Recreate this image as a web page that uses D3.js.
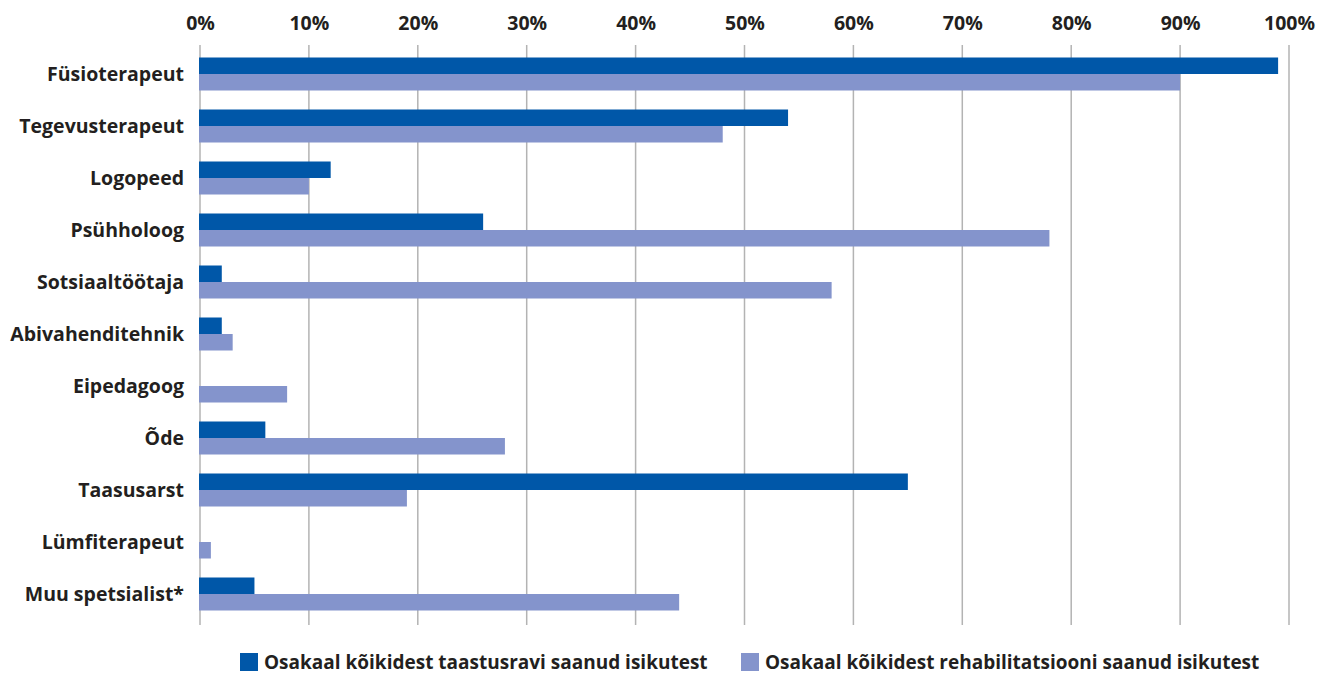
<!DOCTYPE html>
<html>
<head>
<meta charset="utf-8">
<script src="https://cdn.jsdelivr.net/npm/d3@7/dist/d3.min.js"></script>
<style>
  html, body { margin: 0; padding: 0; background: #fff; }
  svg text { font-family: "Open Sans", "Noto Sans", sans-serif; font-weight: 700; fill: #231f20; }
</style>
</head>
<body>
<svg id="chart" width="1319" height="675"></svg>
<script>
const categories = [
  "Füsioterapeut", "Tegevusterapeut", "Logopeed", "Psühholoog", "Sotsiaaltöötaja",
  "Abivahenditehnik", "Eipedagoog", "Õde", "Taasusarst", "Lümfiterapeut", "Muu spetsialist*"
];
const taastusravi = [99, 54, 12, 26, 2, 2, 0, 6, 65, 0, 5];
const rehabilitatsioon = [90, 48, 10, 78, 58, 3, 8, 28, 19, 1, 44];
const seriesNames = [
  "Osakaal kõikidest taastusravi saanud isikutest",
  "Osakaal kõikidest rehabilitatsiooni saanud isikutest"
];
const seriesColors = ["#0057a8", "#8494cc"];
const xTicks = [0, 10, 20, 30, 40, 50, 60, 70, 80, 90, 100];

const svg = d3.select("#chart");
const plotLeft = 200, plotRight = 1289, plotTop = 48, plotBottom = 620;
const fontSize = 19.5;

const x = d3.scaleLinear().domain([0, 100]).range([plotLeft, plotRight]);
const y = d3.scaleBand().domain(categories).range([plotTop, plotBottom]);
const inner = d3.scaleBand().domain([0, 1]).range([y.bandwidth() / 2 - 16.5, y.bandwidth() / 2 + 16.5]);

// vertical gridlines
svg.append("g").selectAll("line").data(xTicks).join("line")
  .attr("x1", d => x(d)).attr("x2", d => x(d))
  .attr("y1", plotTop - 3).attr("y2", plotBottom + 5)
  .attr("stroke", "#b3b3b3").attr("stroke-width", 1.5);

// top axis labels
const axis = d3.axisTop(x).tickValues(xTicks).tickFormat(d => d + "%").tickSize(0).tickPadding(0);
const axG = svg.append("g").attr("transform", `translate(0, 30)`).call(axis);
axG.select(".domain").remove();
axG.selectAll("text").attr("font-size", fontSize).attr("dy", 0).attr("fill", "#231f20")
  .style("font-family", '"Open Sans", sans-serif').style("font-weight", 700);

// bars
const rows = categories.map((c, i) => ({ c, vals: [taastusravi[i], rehabilitatsioon[i]] }));
const g = svg.append("g").selectAll("g").data(rows).join("g")
  .attr("transform", d => `translate(0, ${y(d.c)})`);
g.selectAll("rect").data(d => d.vals.map((v, k) => ({ v, k }))).join("rect")
  .attr("x", x(0) - 1)
  .attr("y", d => inner(d.k))
  .attr("width", d => d.v > 0 ? x(d.v) - x(0) + 1 : 0)
  .attr("height", inner.bandwidth())
  .attr("fill", d => seriesColors[d.k]);

// category labels
svg.append("g").selectAll("text").data(categories).join("text")
  .attr("x", plotLeft - 16)
  .attr("y", d => y(d) + y.bandwidth() / 2 + 7)
  .attr("text-anchor", "end")
  .attr("font-size", fontSize)
  .text(d => d);

// legend
const legendX = [240, 741];
const lg = svg.append("g").selectAll("g").data(seriesNames).join("g")
  .attr("transform", (d, i) => `translate(${legendX[i]}, 653)`);
lg.append("rect").attr("width", 18).attr("height", 18).attr("fill", (d, i) => seriesColors[i]);
lg.append("text").attr("x", 24).attr("y", 16).attr("font-size", 19).text(d => d);
</script>
</body>
</html>
